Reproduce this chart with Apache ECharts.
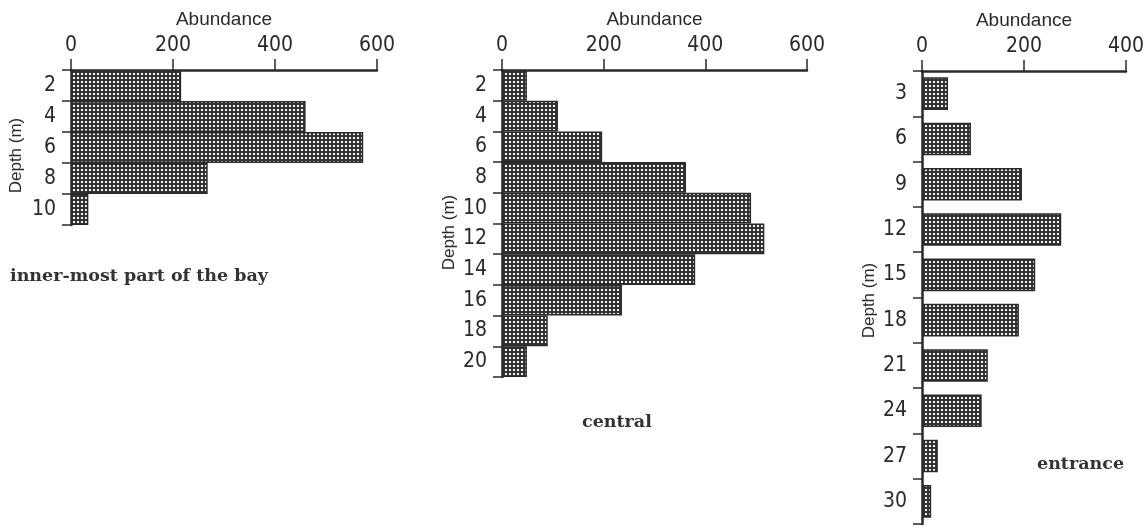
<!DOCTYPE html>
<html>
<head>
<meta charset="utf-8">
<script src="https://cdn.jsdelivr.net/npm/echarts@6/dist/echarts.min.js"></script>
<style>
  html, body { margin: 0; padding: 0; background: #fff; }
  #chart { width: 1146px; height: 529px; }
</style>
</head>
<body>
<div id="chart"></div>
<script>
// depth classes (m) and abundance per panel
const depthInner = ['2', '4', '6', '8', '10']
const abundInner = [216, 460, 573, 268, 34]

const depthCentral = ['2', '4', '6', '8', '10', '12', '14', '16', '18', '20']
const abundCentral = [49, 110, 197, 362, 490, 516, 380, 236, 90, 49]

const depthEntrance = ['3', '6', '9', '12', '15', '18', '21', '24', '27', '30']
const abundEntrance = [51, 96, 196, 273, 222, 190, 129, 117, 31, 18]

const ticksWide = [0, 600]
const ticksNarrow = [0, 400]

// dotted screen fill like the printed figure
function screenPattern () {
  const c = document.createElement('canvas')
  c.width = 4
  c.height = 4
  const ctx = c.getContext('2d')
  ctx.fillStyle = '#333'
  ctx.fillRect(0, 0, 4, 4)
  ctx.fillStyle = '#f4f4f4'
  ctx.fillRect(1, 1, 2, 2)
  return { image: c, repeat: 'repeat' }
}

const ink = '#2a2a2a'
const tickFont = '"Liberation Sans Narrow", "DejaVu Sans Condensed", sans-serif'
const nameFont = '"Liberation Sans", Arial, sans-serif'
const pattern = screenPattern()

const grids = [
  { left: 71, top: 70, width: 306, height: 155 },
  { left: 502, top: 70, width: 305, height: 307 },
  { left: 922, top: 71, width: 204, height: 453 }
].map(g => Object.assign({ containLabel: false, outerBoundsMode: 'none' }, g))

function xAxis (i, range) {
  return {
    gridIndex: i,
    type: 'value',
    position: 'top',
    min: range[0],
    max: range[1],
    interval: 200,
    name: 'Abundance',
    nameLocation: 'middle',
    nameGap: 41,
    nameTextStyle: { fontFamily: nameFont, fontSize: 19, color: ink },
    axisLine: { show: true, lineStyle: { color: ink, width: 2.5 } },
    axisTick: { show: true, inside: false, length: 11, lineStyle: { color: ink, width: 1.5 } },
    axisLabel: { show: true, margin: 14, fontFamily: tickFont, fontSize: 21, color: ink, hideOverlap: false },
    splitLine: { show: false }
  }
}

function yAxis (i, cats, gap, pad) {
  return {
    gridIndex: i,
    type: 'category',
    inverse: true,
    data: cats,
    name: 'Depth (m)',
    nameLocation: 'middle',
    nameRotate: 90,
    nameGap: gap,
    nameTextStyle: { fontFamily: nameFont, fontSize: 17, color: ink, padding: pad },
    axisLine: { show: true, lineStyle: { color: ink, width: 2.5 } },
    axisTick: { show: true, inside: false, length: 9, alignWithLabel: false, lineStyle: { color: ink, width: 1.5 } },
    axisLabel: { show: true, margin: 15, interval: 0, fontFamily: tickFont, fontSize: 21, color: ink },
    splitLine: { show: false }
  }
}

function bars (i, values, gap) {
  return {
    type: 'bar',
    xAxisIndex: i,
    yAxisIndex: i,
    data: values,
    barCategoryGap: gap,
    itemStyle: { color: pattern, borderColor: ink, borderWidth: 1.5 },
    emphasis: { disabled: true },
    silent: true
  }
}

const labelStyle = { fontFamily: '"DejaVu Serif", serif', fontWeight: 'bold', fontSize: 17.5, fill: '#333' }

const option = {
  animation: false,
  backgroundColor: '#fff',
  grid: grids,
  xAxis: [xAxis(0, ticksWide), xAxis(1, ticksWide), xAxis(2, ticksNarrow)],
  yAxis: [
    yAxis(0, depthInner, 46, [0, 16, 0, 0]),
    yAxis(1, depthCentral, 44, [0, 18, 0, 0]),
    yAxis(2, depthEntrance, 44, [0, 6, 0, 0])
  ],
  series: [
    bars(0, abundInner, '0%'),
    bars(1, abundCentral, '0%'),
    bars(2, abundEntrance, '28%')
  ],
  graphic: [
    { type: 'text', left: 10, top: 267, style: Object.assign({ text: 'inner-most part of the bay' }, labelStyle) },
    { type: 'text', left: 582, top: 413, style: Object.assign({ text: 'central' }, labelStyle) },
    { type: 'text', left: 1037, top: 455, style: Object.assign({ text: 'entrance' }, labelStyle) }
  ]
}

const myChart = echarts.init(document.getElementById('chart'))
myChart.setOption(option)
</script>
</body>
</html>
